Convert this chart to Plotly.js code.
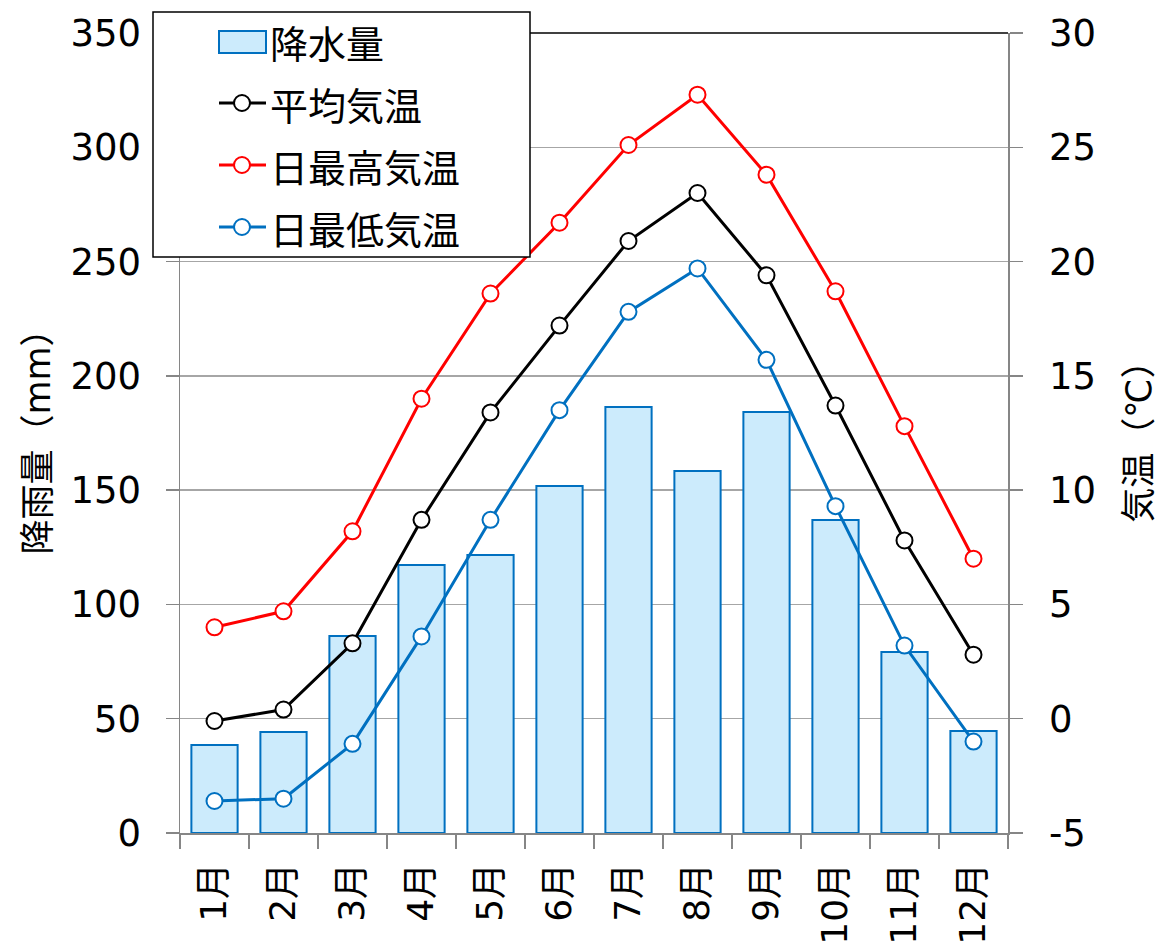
<!DOCTYPE html>
<html><head><meta charset="utf-8">
<script src="https://cdn.plot.ly/plotly-3.0.1.min.js"></script>
<style>body{margin:0;background:#fff}</style>
</head><body>
<div id="chart" style="width:1159px;height:944px"></div>
<script>
const months = ['1月','2月','3月','4月','5月','6月','7月','8月','9月','10月','11月','12月'];
const precipitation = [38.5, 44.2, 86.2, 117.2, 121.6, 151.8, 186.4, 158.4, 184.2, 136.9, 79.2, 44.6];
const tempMean = [-0.1, 0.4, 3.3, 8.7, 13.4, 17.2, 20.9, 23.0, 19.4, 13.7, 7.8, 2.8];
const tempMax = [4.0, 4.7, 8.2, 14.0, 18.6, 21.7, 25.1, 27.3, 23.8, 18.7, 12.8, 7.0];
const tempMin = [-3.6, -3.5, -1.1, 3.6, 8.7, 13.5, 17.8, 19.7, 15.7, 9.3, 3.2, -1.0];
const precipTicks = [0, 50, 100, 150, 200, 250, 300, 350];
const tempTicks = [-5, 0, 5, 10, 15, 20, 25, 30];
const legendLabels = ['降水量', '平均気温', '日最高気温', '日最低気温'];

const W = 1159, H = 944;
const M = {l: 180, r: 151, t: 33, b: 111};
const PW = W - M.l - M.r, PH = H - M.t - M.b;
const px = x => (x - M.l) / PW;
const py = y => (H - M.b - y) / PH;

const FONT = 'DejaVu Sans, "Noto Sans CJK JP", sans-serif';
const BLUE = '#0070C0', RED = '#FF0000', BLACK = '#000000', BARFILL = '#CCEBFC';
const GRID = '#A6A6A6', AXIS = '#868686';

function lineTrace(y, color, name) {
  return {
    type: 'scatter', mode: 'lines+markers', x: months, y: y, yaxis: 'y2', name: name,
    line: {color: color, width: 3},
    marker: {symbol: 'circle', size: 16, color: '#FFFFFF', line: {color: color, width: 2}},
    showlegend: false, cliponaxis: false
  };
}

const data = [
  {type: 'bar', x: months, y: precipitation, name: legendLabels[0], width: 0.67,
   marker: {color: BARFILL, line: {color: BLUE, width: 2}}, showlegend: false},
  lineTrace(tempMean, BLACK, legendLabels[1]),
  lineTrace(tempMax, RED, legendLabels[2]),
  lineTrace(tempMin, BLUE, legendLabels[3])
];

// custom legend (box, symbols, labels)
const shapes = [
  {type: 'line', xref: 'paper', yref: 'paper', x0: 0, x1: 1, y0: 1, y1: 1, line: {color: '#000', width: 1.5}},
  {type: 'rect', xref: 'paper', yref: 'paper', x0: px(153), x1: px(530), y0: py(12), y1: py(257),
   fillcolor: '#FFFFFF', line: {color: '#000', width: 1.5}}
];
const annotations = [];
const rowY = [42, 103, 165, 227];
const symColors = [BLUE, BLACK, RED, BLUE];
rowY.forEach((ry, i) => {
  if (i === 0) {
    shapes.push({type: 'rect', xref: 'paper', yref: 'paper', x0: px(219), x1: px(266), y0: py(ry + 11), y1: py(ry - 11),
      fillcolor: BARFILL, line: {color: BLUE, width: 2}});
  } else {
    shapes.push({type: 'line', xref: 'paper', yref: 'paper', x0: px(219), x1: px(266), y0: py(ry), y1: py(ry),
      line: {color: symColors[i], width: 3}});
    shapes.push({type: 'circle', xref: 'paper', yref: 'paper', x0: px(234), x1: px(250), y0: py(ry + 8), y1: py(ry - 8),
      fillcolor: '#FFFFFF', line: {color: symColors[i], width: 2}});
  }
  annotations.push({xref: 'paper', yref: 'paper', x: px(268), y: py(ry), xanchor: 'left', yanchor: 'middle',
    text: legendLabels[i], showarrow: false, font: {family: '"Noto Sans CJK JP", sans-serif', size: 38, color: '#000'}});
});

const layout = {
  width: W, height: H,
  margin: M,
  paper_bgcolor: '#FFFFFF', plot_bgcolor: '#FFFFFF',
  font: {family: FONT, color: '#000'},
  showlegend: false,
  bargap: 0.33,
  xaxis: {
    type: 'category', range: [-0.5, 11.5], tickson: 'boundaries', ticks: 'outside', ticklen: 14, tickcolor: AXIS, tickwidth: 1.5,
    showline: true, linecolor: AXIS, linewidth: 1.5, showgrid: false,
    tickangle: -90, tickfont: {size: 36, family: FONT}, ticklabelstandoff: 14,
    automargin: false, fixedrange: true
  },
  yaxis: {
    range: [0, 350], tickvals: precipTicks, ticktext: precipTicks.map(String),
    showgrid: true, gridcolor: GRID, gridwidth: 1.5, zeroline: false,
    showline: true, linecolor: AXIS, linewidth: 1.5,
    ticks: 'outside', ticklen: 13, tickcolor: AXIS, tickwidth: 1.5,
    tickfont: {size: 37, family: FONT}, ticklabelstandoff: 17,
    title: {text: '降雨量（mm）', font: {size: 35, family: FONT}, standoff: 9},
    automargin: false, fixedrange: true
  },
  yaxis2: {
    overlaying: 'y', side: 'right', range: [-5, 30], tickvals: tempTicks, ticktext: tempTicks.map(String),
    showgrid: false, zeroline: false,
    showline: true, linecolor: AXIS, linewidth: 1.5,
    ticks: 'outside', ticklen: 13, tickcolor: AXIS, tickwidth: 1.5,
    tickfont: {size: 37, family: FONT}, ticklabelstandoff: 19,
    title: {text: '気温（℃）', font: {size: 35, family: FONT}, standoff: 32},
    automargin: false, fixedrange: true
  },
  shapes: shapes,
  annotations: annotations
};

Plotly.newPlot('chart', data, layout, {displayModeBar: false, staticPlot: true});
</script>
</body></html>
